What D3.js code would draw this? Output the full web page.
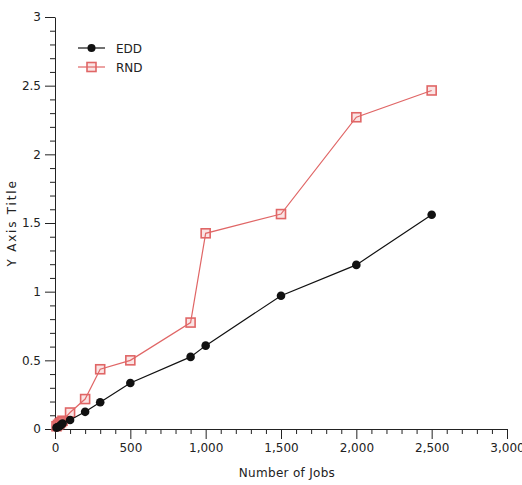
<!DOCTYPE html>
<html>
<head>
<meta charset="utf-8">
<script src="https://cdn.jsdelivr.net/npm/d3@7"></script>
<style>
  html, body { margin: 0; padding: 0; background: #fff; }
  svg { display: block; }
  text { font-family: "DejaVu Sans", sans-serif; fill: #222; }
</style>
</head>
<body>
<svg id="chart" width="522" height="485"></svg>
<script>
// Number of jobs per run and the measured value for each scheduling rule
const jobs = [10, 20, 30, 40, 50, 100, 200, 300, 500, 900, 1000, 1500, 2000, 2500];
const eddValues = [0.01, 0.015, 0.02, 0.03, 0.04, 0.065, 0.125, 0.195, 0.335, 0.525, 0.607, 0.97, 1.195, 1.56];
const rndValues = [0.02, 0.03, 0.04, 0.05, 0.06, 0.12, 0.218, 0.435, 0.5, 0.775, 1.425, 1.565, 2.27, 2.465];
const seriesNames = ["EDD", "RND"];
const xTicks = [0, 500, 1000, 1500, 2000, 2500, 3000];
const yTicks = [0, 0.5, 1, 1.5, 2, 2.5, 3];

const svg = d3.select("#chart");
const m = { left: 55, right: 15, top: 17, bottom: 56 };
const W = 522, H = 485;

const x = d3.scaleLinear().domain([0, 3000]).range([m.left, W - m.right]);
const y = d3.scaleLinear().domain([0, 3]).range([H - m.bottom, m.top]);

const fmtX = d3.format(",");
const fmtY = d => String(d);

// minor ticks
const xMinor = d3.range(0, 3001, 100).filter(v => v % 500 !== 0);
const yMinor = d3.range(0, 31, 1).map(v => v / 10).filter(v => Math.round(v * 10) % 5 !== 0);

const gx = svg.append("g").attr("transform", `translate(0,${y(0)})`);
gx.call(d3.axisBottom(x).tickValues(xMinor).tickSize(5).tickFormat(""))
  .call(g => g.select(".domain").remove());
gx.append("g").call(d3.axisBottom(x).tickValues(xTicks).tickSize(10).tickSizeOuter(0).tickFormat(fmtX).tickPadding(4))
  .call(g => g.selectAll("text").style("font-size", "12px").attr("fill", "#333"));

const gy = svg.append("g").attr("transform", `translate(${x(0)},0)`);
gy.call(d3.axisLeft(y).tickValues(yMinor).tickSize(5).tickFormat(""))
  .call(g => g.select(".domain").remove());
gy.append("g").call(d3.axisLeft(y).tickValues(yTicks).tickSize(10).tickSizeOuter(0).tickFormat(fmtY).tickPadding(4))
  .call(g => g.selectAll("text").style("font-size", "12px").attr("fill", "#333"));

svg.selectAll(".tick line").attr("stroke", "#222");
svg.selectAll(".domain").attr("stroke", "#222");

// axis titles
svg.append("text")
  .attr("x", (x(0) + x(3000)) / 2 + 6).attr("y", 477)
  .attr("text-anchor", "middle")
  .style("font-size", "12px").style("letter-spacing", "0.3px")
  .text("Number of Jobs");

svg.append("text")
  .attr("transform", `translate(16,${(y(0) + y(3)) / 2}) rotate(-90)`)
  .attr("text-anchor", "middle")
  .style("font-size", "12px").style("letter-spacing", "1.8px")
  .text("Y Axis Title");

const eddColor = "#111";
const rndColor = "#e06666";

const line = d3.line().x(d => x(d[0])).y(d => y(d[1]));
const edd = jobs.map((j, i) => [j, eddValues[i]]);
const rnd = jobs.map((j, i) => [j, rndValues[i]]);

// RND series: line with hollow squares
svg.append("path").datum(rnd).attr("d", line)
  .attr("fill", "none").attr("stroke", rndColor).attr("stroke-width", 1.2);
svg.append("g").selectAll("rect").data(rnd).join("rect")
  .attr("x", d => x(d[0]) - 4.5).attr("y", d => y(d[1]) - 4.5)
  .attr("width", 9).attr("height", 9)
  .attr("fill", "rgba(230,120,120,0.2)").attr("stroke", rndColor).attr("stroke-width", 1.6);

// EDD series: line with filled circles
svg.append("path").datum(edd).attr("d", line)
  .attr("fill", "none").attr("stroke", eddColor).attr("stroke-width", 1.2);
svg.append("g").selectAll("circle").data(edd).join("circle")
  .attr("cx", d => x(d[0])).attr("cy", d => y(d[1])).attr("r", 4.3)
  .attr("fill", eddColor);

// legend
const legend = svg.append("g");
const items = [
  { name: seriesNames[0], color: eddColor, shape: "circle", yy: 48 },
  { name: seriesNames[1], color: rndColor, shape: "square", yy: 67 }
];
items.forEach(it => {
  legend.append("line").attr("x1", 78).attr("x2", 105).attr("y1", it.yy).attr("y2", it.yy)
    .attr("stroke", it.color).attr("stroke-width", 1.2);
  if (it.shape === "circle") {
    legend.append("circle").attr("cx", 91.5).attr("cy", it.yy).attr("r", 4).attr("fill", it.color);
  } else {
    legend.append("rect").attr("x", 87).attr("y", it.yy - 4.5).attr("width", 9).attr("height", 9)
      .attr("fill", "rgba(230,120,120,0.2)").attr("stroke", it.color).attr("stroke-width", 1.6);
  }
  legend.append("text").attr("x", 116).attr("y", it.yy + 4.5)
    .style("font-size", "12px").text(it.name);
});
</script>
</body>
</html>
